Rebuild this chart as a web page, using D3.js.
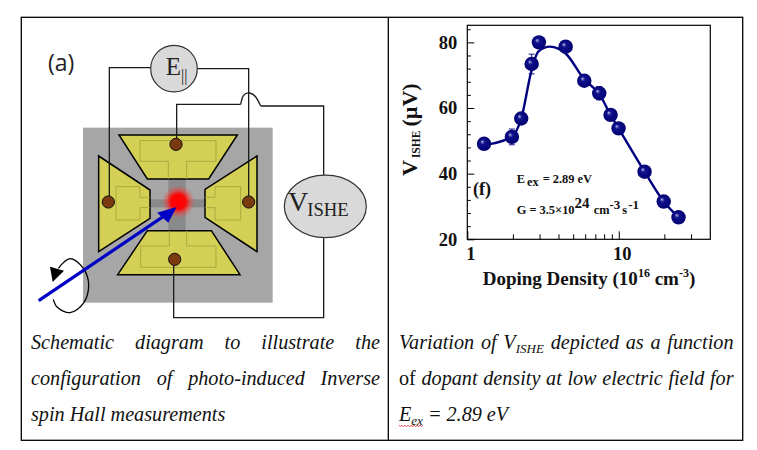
<!DOCTYPE html>
<html><head><meta charset="utf-8">
<script src="https://cdn.jsdelivr.net/npm/d3@7/dist/d3.min.js"></script>
<style>html,body{margin:0;padding:0;background:#fff}svg{display:block}
text{font-family:"Liberation Serif",serif}</style></head><body>
<svg id="c" width="757" height="450"></svg>
<script>
// chart data
const density=[1.29,1.97,2.27,2.66,2.97,4.46,5.92,7.43,8.83,9.97,14.8,19.8,24.8];
const vishe=[49.1,51.2,56.8,73.4,80,78.7,68.3,64.5,57.9,53.8,40.6,31.5,26.7];
const errors=[0.8,2.4,0.8,3,0.8,0.8,0.8,2,0.8,0.8,0.8,0.8,0.8];
const fitDensity=[1.29,1.97,2.27,2.66,2.94,3.51,4.46,5.92,7.43,8.83,9.97,14.8,19.8,24.8];
const fitVishe=[48.7,51.3,56.8,71.6,77.2,78.7,76.6,68.7,64.3,57.9,53.8,40.6,31.5,26.7];
const xMajor=[1,10];
const xMinor=[2,3,4,5,6,7,8,9,20,30];
const yMajor=[20,40,60,80];
const yMinor=[24,28,32,36,44,48,52,56,64,68,72,76,84];
// schematic data
const padTop=[[297,345],[652,345],[566,477],[382,477]];
const padLeft=[[236,408],[390,510],[390,595],[236,695]];
const padRight=[[711,408],[555,508],[555,592],[711,695]];
const padBottom=[[382,632],[574,632],[660,764],[293,764]];
const innerLines=[
 [[445,477],[445,424],[360,424],[360,362],[588,362],[588,424],[500,424],[500,477]],
 [[390,532],[360,532],[360,500],[288,500],[288,600],[360,600],[360,563],[390,563]],
 [[555,532],[585,532],[585,500],[662,500],[662,600],[585,600],[585,563],[555,563]],
 [[448,632],[448,678],[362,678],[362,742],[588,742],[588,678],[500,678],[500,632]]];
const contacts=[[468,373],[265,546],[686,546],[464,718]];
const wires=[
 [[268,530],[268,143],[392,143]],
 [[532,146],[686,146],[686,530]],
 [[911,465],[911,258],[722,258]],
 [[470,355],[470,253],[662,253]],
 [[911,655],[911,893],[461,893],[461,735]]];
const bump=[[662,253],[668,222],[690,216],[708,228],[722,258]];
const loopArc=[[115,745],[150,716],[190,745],[206,795],[190,850],[150,878],[112,862],[100,838]];
const captionA=[
 [{t:"Schematic",i:1},{t:"diagram",i:1},{t:"to",i:1},{t:"illustrate",i:1},{t:"the",i:1}],
 [{t:"configuration",i:1},{t:"of",i:1},{t:"photo-induced",i:1},{t:"Inverse",i:1}],
 [{t:"spin",i:1},{t:"Hall",i:1},{t:"measurements",i:1}]];
const captionB=[
 [{t:"Variation",i:1},{t:"of",i:1},{t:"V",i:1,s:"ISHE"},{t:"depicted",i:1},{t:"as",i:1},{t:"a",i:1},{t:"function",i:1}],
 [{t:"of",i:0},{t:"dopant",i:1},{t:"density",i:1},{t:"at",i:1},{t:"low",i:1},{t:"electric",i:1},{t:"field",i:1},{t:"for",i:1}],
 [{t:"E",i:1,s:"ex"},{t:"=",i:1},{t:"2.89",i:1},{t:"eV",i:1}]];

const svg=d3.select("#c");
const defs=svg.append("defs");
const ball=defs.append("radialGradient").attr("id","ball").attr("cx","50%").attr("cy","50%").attr("r","55%").attr("fx","36%").attr("fy","34%");
[[0,"#c8c8f0"],[.12,"#6a6ac0"],[.3,"#10108c"],[1,"#00006e"]].forEach(d=>ball.append("stop").attr("offset",d[0]).attr("stop-color",d[1]));
const spot=defs.append("radialGradient").attr("id","spot");
[[0,"#ff0000",1],[.45,"#ff0000",.95],[.75,"#ff3030",.4],[1,"#ff4040",0]].forEach(d=>spot.append("stop").attr("offset",d[0]).attr("stop-color",d[1]).attr("stop-opacity",d[2]));

// table frame
const border=svg.append("g").attr("stroke","#000").attr("stroke-width",1.3).attr("fill","none");
border.append("rect").attr("x",21.3).attr("y",17.3).attr("width",721.4).attr("height",423);
border.append("line").attr("x1",388.3).attr("x2",388.3).attr("y1",17.3).attr("y2",440.3);

// schematic, scaled from a 3x drawing grid
const sx=d3.scaleLinear().domain([0,1110]).range([20,390]);
const sy=d3.scaleLinear().domain([0,930]).range([20,330]);
const S=svg.append("g").attr("id","schematic");
const line=d3.line().x(d=>sx(d[0])).y(d=>sy(d[1]));
const closed=d3.line().x(d=>sx(d[0])).y(d=>sy(d[1])).curve(d3.curveLinearClosed);
const box=(g,x0,x1,y0,y1,f)=>g.append("rect").attr("x",sx(x0)).attr("y",sy(y0)).attr("width",sx(x1)-sx(x0)).attr("height",sy(y1)-sy(y0)).attr("fill",f);
box(S,189,758,323,848,"#a6a6a6");
box(S,445,497,477,632,"#8a8a8a");
box(S,390,563,538,562,"#8a8a8a");
S.selectAll("path.pad").data([padTop,padLeft,padRight,padBottom]).join("path").attr("class","pad")
 .attr("d",closed).attr("fill","#d3d055").attr("stroke","#000").attr("stroke-width",1.5).attr("stroke-linejoin","miter");
S.selectAll("path.inner").data(innerLines).join("path").attr("class","inner")
 .attr("d",line).attr("fill","none").attr("stroke","#a9a63e").attr("stroke-width",.9);
S.append("circle").attr("cx",sx(475)).attr("cy",sy(545)).attr("r",sx(50)-sx(0)).attr("fill","url(#spot)");
S.selectAll("path.wire").data(wires).join("path").attr("class","wire").attr("d",line).attr("fill","none").attr("stroke","#1a1a1a").attr("stroke-width",1.3);
S.append("path").attr("d",d3.line().x(d=>sx(d[0])).y(d=>sy(d[1])).curve(d3.curveBasis)(bump)).attr("fill","none").attr("stroke","#1a1a1a").attr("stroke-width",1.3);
S.selectAll("circle.ct").data(contacts).join("circle").attr("class","ct").attr("cx",d=>sx(d[0])).attr("cy",d=>sy(d[1])).attr("r",6.1)
 .attr("fill","#7b3a0e").attr("stroke","#111").attr("stroke-width",1);
// loop and arrows
S.append("path").attr("d",d3.line().x(d=>sx(d[0])).y(d=>sy(d[1])).curve(d3.curveCatmullRom)(loopArc)).attr("fill","none").attr("stroke","#000").attr("stroke-width",1.3);
S.append("path").attr("d",closed([[90,740],[132,752],[98,786]])).attr("fill","#000");
S.append("line").attr("x1",sx(56)).attr("y1",sy(842)).attr("x2",sx(435)).attr("y2",sy(586)).attr("stroke","#0000c4").attr("stroke-width",3.2);
S.append("path").attr("d",closed([[470,561],[411,578],[445,608]])).attr("fill","#0000c4");
// meters
S.append("circle").attr("cx",sx(462)).attr("cy",sy(146)).attr("r",23.3).attr("fill","#d9d9d9").attr("stroke","#333").attr("stroke-width",1.2);
S.append("ellipse").attr("cx",sx(916)).attr("cy",sy(559)).attr("rx",41).attr("ry",31.3).attr("fill","#d9d9d9").attr("stroke","#333").attr("stroke-width",1.2);
const eT=S.append("text").attr("x",sx(437)).attr("y",sy(165)).attr("font-size",25).attr("fill","#222");
eT.append("tspan").text("E");
eT.append("tspan").attr("font-size",16).attr("dy",6).text("||");
const vT=S.append("text").attr("x",sx(804)).attr("y",sy(572)).attr("font-size",28).attr("fill","#222");
vT.append("tspan").text("V");
vT.append("tspan").attr("font-size",18.7).attr("dy",5).attr("dx",-1).text("ISHE");
svg.append("text").attr("x",48).attr("y",71).attr("font-size",23).attr("fill","#222").style("font-family","'Open Sans',sans-serif").text("(a)");

// plot
const x=d3.scaleLog().domain([1,40.2]).range([467.3,710.3]);
const y=d3.scaleLinear().domain([20,85.2]).range([239.3,25.3]);
const P=svg.append("g").attr("id","plot");
const styleAxis=g=>{g.selectAll(".domain").remove();g.selectAll("line").attr("stroke","#000").attr("stroke-width",1);};
const labelStyle=g=>g.selectAll("text").attr("font-size",18.5).attr("font-weight","bold").attr("fill","#111").style("font-family","'Liberation Serif',serif");
P.append("g").attr("transform","translate(0,239.3)").call(d3.axisBottom(x).tickValues(xMajor).tickFormat(d3.format("d")).tickSizeInner(-8).tickSizeOuter(0).tickPadding(8)).call(styleAxis).call(labelStyle).selectAll("text").attr("dx",3);
P.append("g").attr("transform","translate(0,239.3)").call(d3.axisBottom(x).tickValues(xMinor).tickFormat("").tickSizeInner(-5).tickSizeOuter(0)).call(styleAxis);
P.append("g").attr("transform","translate(467.3,0)").call(d3.axisLeft(y).tickValues(yMajor).tickFormat(d3.format("d")).tickSizeInner(-7).tickSizeOuter(0).tickPadding(10)).call(styleAxis).call(labelStyle);
P.append("g").attr("transform","translate(467.3,0)").call(d3.axisLeft(y).tickValues(yMinor).tickFormat("").tickSizeInner(-3.5).tickSizeOuter(0)).call(styleAxis);
P.append("rect").attr("x",467.3).attr("y",25.3).attr("width",243).attr("height",214).attr("fill","none").attr("stroke","#000").attr("stroke-width",1.2);

P.append("path").datum(d3.zip(fitDensity,fitVishe))
 .attr("d",d3.line().x(d=>x(d[0])).y(d=>y(d[1])).curve(d3.curveMonotoneX)).attr("fill","none").attr("stroke","#000080").attr("stroke-width",2.4);
const pts=d3.zip(density,vishe,errors);
P.selectAll("path.err").data(pts).join("path").attr("class","err")
 .attr("d",d=>{const X=x(d[0]),a=y(d[1]-d[2]),b=y(d[1]+d[2]);return `M${X},${a}V${b}M${X-3},${a}H${X+3}M${X-3},${b}H${X+3}`;})
 .attr("stroke","#000080").attr("stroke-width",.9).attr("fill","none");
P.selectAll("circle.pt").data(pts).join("circle").attr("class","pt").attr("cx",d=>x(d[0])).attr("cy",d=>y(d[1])).attr("r",7.2).attr("fill","url(#ball)");

// axis titles
const xt=P.append("text").attr("x",482.7).attr("y",285).attr("font-size",19).attr("font-weight","bold").attr("fill","#111");
xt.append("tspan").text("Doping Density (10");
xt.append("tspan").attr("font-size",12).attr("dy",-8).text("16");
xt.append("tspan").attr("dy",8).text(" cm");
xt.append("tspan").attr("font-size",12).attr("dy",-8).text("-3");
xt.append("tspan").attr("dy",8).text(")");
const yt=P.append("text").attr("transform","translate(417,176) rotate(-90)").attr("font-size",22).attr("font-weight","bold").attr("fill","#111");
yt.append("tspan").text("V");
yt.append("tspan").attr("font-size",11.5).attr("dy",3).attr("dx",2).text("ISHE");
yt.append("tspan").attr("dy",-3).attr("dx",4).text("(µV)");
// annotations
P.append("text").attr("x",473).attr("y",195).attr("font-size",18).attr("font-weight","bold").attr("fill","#111").text("(f)");
const a1=P.append("text").attr("x",516.7).attr("y",183).attr("font-size",12.4).attr("font-weight","bold").attr("fill","#111");
a1.append("tspan").text("E");
a1.append("tspan").attr("dy",3).attr("dx",2).text("ex");
a1.append("tspan").attr("dy",-3).attr("dx",4).text("= 2.89  eV");
const a2=P.append("text").attr("x",516.7).attr("y",214.3).attr("font-size",12.4).attr("font-weight","bold").attr("fill","#111");
a2.append("tspan").text("G = 3.5×10");
a2.append("tspan").attr("font-size",15).attr("dy",-6).text("24");
a2.append("tspan").attr("dy",6).attr("dx",1).text(" cm");
a2.append("tspan").attr("font-size",13).attr("dy",-5).text("-3");
a2.append("tspan").attr("dy",5).attr("dx",2).text("s");
a2.append("tspan").attr("font-size",13).attr("dy",-5).attr("dx",1).text("-1");

// captions, laid out word by word and justified
const capSize=20.2;
function caption(lines,x0,x1,justified,y0,lh){
 lines.forEach((words,li)=>{
  const base=y0+li*lh;
  const items=words.map(w=>{
   const t=svg.append("text").attr("y",base).attr("font-size",capSize).attr("fill","#111").attr("font-style",w.i?"italic":"normal");
   t.append("tspan").text(w.t);
   if(w.s) t.append("tspan").attr("font-size",13).attr("dy",4).text(w.s);
   return {t,w:t.node().getComputedTextLength()};
  });
  const total=d3.sum(items,d=>d.w);
  const gap=justified[li]?(x1-x0-total)/(items.length-1):5;
  let cx=x0;
  items.forEach(d=>{d.t.attr("x",cx);cx+=d.w+gap;});
 });
}
caption(captionA,31,380,[1,1,0],349.3,36);
caption(captionB,399,733.5,[1,1,0],349.3,36);
// proofing squiggle under the subscript
const squig=d3.range(0,25,1.5).map((d,i)=>[399+d,425.5+(i%2?1:-0.2)]);
svg.append("path").attr("d",d3.line()(squig)).attr("fill","none").attr("stroke","#d02020").attr("stroke-width",.8);
</script></body></html>
